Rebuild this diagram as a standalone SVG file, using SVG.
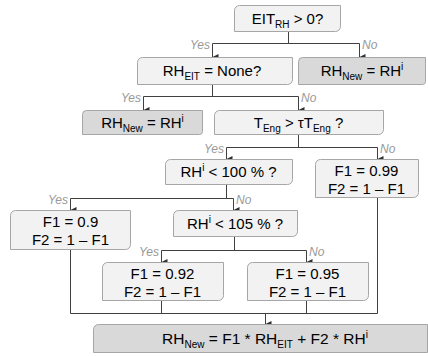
<svg xmlns="http://www.w3.org/2000/svg" width="428" height="356" viewBox="0 0 428 356">
  <defs>
    <marker id="arrow" viewBox="0 0 6 6" refX="3" refY="6" markerWidth="6" markerHeight="6" markerUnits="userSpaceOnUse" orient="auto-start-reverse">
      <path d="M0,0 L6,0 L3,6 Z" fill="#303030"/>
    </marker>
    <style>
      .q { fill: #f2f2f2; stroke: #a6a6a6; stroke-width: 1; }
      .d { fill: #d9d9d9; stroke: #a6a6a6; stroke-width: 1; }
      .t { font-family: "Liberation Sans", Arial, sans-serif; font-size: 15px; fill: #000; text-anchor: middle; }
      .s { font-size: 10px; }
      .lbl { font-family: "Liberation Sans", Arial, sans-serif; font-size: 12px; font-style: italic; fill: #999999; }
      .end { text-anchor: end; }
      .c { fill: none; stroke: #404040; stroke-width: 1; }
    </style>
  </defs>
  <rect width="428" height="356" fill="#ffffff"/>

  <!-- connectors -->
  <g id="connectors">
    <path class="c" d="M288.5,32 V43.5 M212.5,43.5 H359.5"/>
    <path class="c" d="M212.5,43.5 V57" marker-end="url(#arrow)"/>
    <path class="c" d="M359.5,43.5 V57" marker-end="url(#arrow)"/>

    <path class="c" d="M212.5,85 V96.5 M143.5,96.5 H298.5"/>
    <path class="c" d="M143.5,96.5 V110" marker-end="url(#arrow)"/>
    <path class="c" d="M298.5,96.5 V110" marker-end="url(#arrow)"/>

    <path class="c" d="M298.5,135 V147.5 M226.5,147.5 H377.5"/>
    <path class="c" d="M226.5,147.5 V159" marker-end="url(#arrow)"/>
    <path class="c" d="M377.5,147.5 V159" marker-end="url(#arrow)"/>

    <path class="c" d="M226.5,185 V198.5 M70.5,198.5 H233.5"/>
    <path class="c" d="M70.5,198.5 V210" marker-end="url(#arrow)"/>
    <path class="c" d="M233.5,198.5 V210" marker-end="url(#arrow)"/>

    <path class="c" d="M234.5,237 V250.5 M161.5,250.5 H306.5"/>
    <path class="c" d="M161.5,250.5 V262" marker-end="url(#arrow)"/>
    <path class="c" d="M306.5,250.5 V262" marker-end="url(#arrow)"/>

    <path class="c" d="M70.5,250 V313.5 M161.5,301 V313.5 M306.5,301 V313.5 M377.5,198 V313.5 M70.5,313.5 H377.5"/>
    <path class="c" d="M265.5,313.5 V324" marker-end="url(#arrow)"/>
  </g>

  <!-- branch labels -->
  <g id="labels">
    <text class="lbl end" x="210" y="49">Yes</text>
    <text class="lbl" x="362" y="49">No</text>
    <text class="lbl end" x="141" y="102">Yes</text>
    <text class="lbl" x="301" y="102">No</text>
    <text class="lbl end" x="224" y="153">Yes</text>
    <text class="lbl" x="380" y="153">No</text>
    <text class="lbl end" x="68" y="204">Yes</text>
    <text class="lbl" x="236" y="204">No</text>
    <text class="lbl end" x="159" y="256">Yes</text>
    <text class="lbl" x="309" y="256">No</text>
  </g>

  <!-- decision: EIT_RH > 0? -->
  <g id="n-eit">
    <path class="q" d="M239.5,5.5 H340.5 V26.5 A5,5 0 0 1 335.5,31.5 H234.5 V10.5 A5,5 0 0 1 239.5,5.5 Z"/>
    <text class="t" x="287.5" y="24">EIT<tspan class="s" dy="4">RH</tspan><tspan dy="-4"> &gt; 0?</tspan></text>
  </g>

  <!-- decision: RH_EIT = None? -->
  <g id="n-none">
    <path class="q" d="M142.5,57.5 H292.5 V79.5 A5,5 0 0 1 287.5,84.5 H137.5 V62.5 A5,5 0 0 1 142.5,57.5 Z"/>
    <text class="t" x="212" y="76">RH<tspan class="s" dy="4">EIT</tspan><tspan dy="-4"> = None?</tspan></text>
  </g>

  <!-- result: RH_New = RH^i (top) -->
  <g id="n-keep1">
    <path class="d" d="M302.5,57.5 H425.5 V81.5 A3,3 0 0 1 422.5,84.5 H298.5 V61.5 A4,4 0 0 1 302.5,57.5 Z"/>
    <text class="t" x="362" y="76">RH<tspan class="s" dy="4">New</tspan><tspan dy="-4"> = RH</tspan><tspan class="s" dy="-6">i</tspan></text>
  </g>

  <!-- result: RH_New = RH^i (second) -->
  <g id="n-keep2">
    <path class="d" d="M86.5,110.5 H202.5 V131.5 A3,3 0 0 1 199.5,134.5 H82.5 V114.5 A4,4 0 0 1 86.5,110.5 Z"/>
    <text class="t" x="142.5" y="128">RH<tspan class="s" dy="4">New</tspan><tspan dy="-4"> = RH</tspan><tspan class="s" dy="-6">i</tspan></text>
  </g>

  <!-- decision: T_Eng > tau T_Eng ? -->
  <g id="n-teng">
    <path class="q" d="M219.5,110.5 H383.5 V129.5 A5,5 0 0 1 378.5,134.5 H214.5 V115.5 A5,5 0 0 1 219.5,110.5 Z"/>
    <text class="t" x="298.5" y="128">T<tspan class="s" dy="4">Eng</tspan><tspan dy="-4"> &gt; τT</tspan><tspan class="s" dy="4">Eng</tspan><tspan dy="-4"> ?</tspan></text>
  </g>

  <!-- decision: RH^i < 100 % ? -->
  <g id="n-rh100">
    <path class="q" d="M170.5,159.5 H292.5 V179.5 A5,5 0 0 1 287.5,184.5 H165.5 V164.5 A5,5 0 0 1 170.5,159.5 Z"/>
    <text class="t" x="228.5" y="177">RH<tspan class="s" dy="-6">i</tspan><tspan dy="6"> &lt; 100 % ?</tspan></text>
  </g>

  <!-- factors: 0.99 -->
  <g id="n-f099">
    <path class="q" d="M320.5,159.5 H418.5 V192.5 A5,5 0 0 1 413.5,197.5 H315.5 V164.5 A5,5 0 0 1 320.5,159.5 Z"/>
    <text class="t" x="366.5" y="176">F1 = 0.99</text>
    <text class="t" x="366.5" y="194">F2 = 1 – F1</text>
  </g>

  <!-- factors: 0.9 -->
  <g id="n-f09">
    <path class="q" d="M15.5,210.5 H130.5 V244.5 A5,5 0 0 1 125.5,249.5 H10.5 V215.5 A5,5 0 0 1 15.5,210.5 Z"/>
    <text class="t" x="70.5" y="227">F1 = 0.9</text>
    <text class="t" x="70.5" y="245">F2 = 1 – F1</text>
  </g>

  <!-- decision: RH^i < 105 % ? -->
  <g id="n-rh105">
    <path class="q" d="M178.5,210.5 H297.5 V231.5 A5,5 0 0 1 292.5,236.5 H173.5 V215.5 A5,5 0 0 1 178.5,210.5 Z"/>
    <text class="t" x="235" y="229">RH<tspan class="s" dy="-6">i</tspan><tspan dy="6"> &lt; 105 % ?</tspan></text>
  </g>

  <!-- factors: 0.92 -->
  <g id="n-f092">
    <path class="q" d="M107.5,262.5 H223.5 V295.5 A5,5 0 0 1 218.5,300.5 H102.5 V267.5 A5,5 0 0 1 107.5,262.5 Z"/>
    <text class="t" x="162.5" y="279">F1 = 0.92</text>
    <text class="t" x="162.5" y="297">F2 = 1 – F1</text>
  </g>

  <!-- factors: 0.95 -->
  <g id="n-f095">
    <path class="q" d="M252.5,262.5 H368.5 V295.5 A5,5 0 0 1 363.5,300.5 H247.5 V267.5 A5,5 0 0 1 252.5,262.5 Z"/>
    <text class="t" x="307.5" y="279">F1 = 0.95</text>
    <text class="t" x="307.5" y="297">F2 = 1 – F1</text>
  </g>

  <!-- final blend -->
  <g id="n-blend">
    <path class="d" d="M98.5,324.5 H427.5 V352.5 H93.5 V329.5 A5,5 0 0 1 98.5,324.5 Z"/>
    <text class="t" x="265" y="344" style="font-size:15.5px">RH<tspan class="s" dy="4">New</tspan><tspan dy="-4"> = F1 * RH</tspan><tspan class="s" dy="4">EIT</tspan><tspan dy="-4"> + F2 * RH</tspan><tspan class="s" dy="-6">i</tspan></text>
  </g>
</svg>
